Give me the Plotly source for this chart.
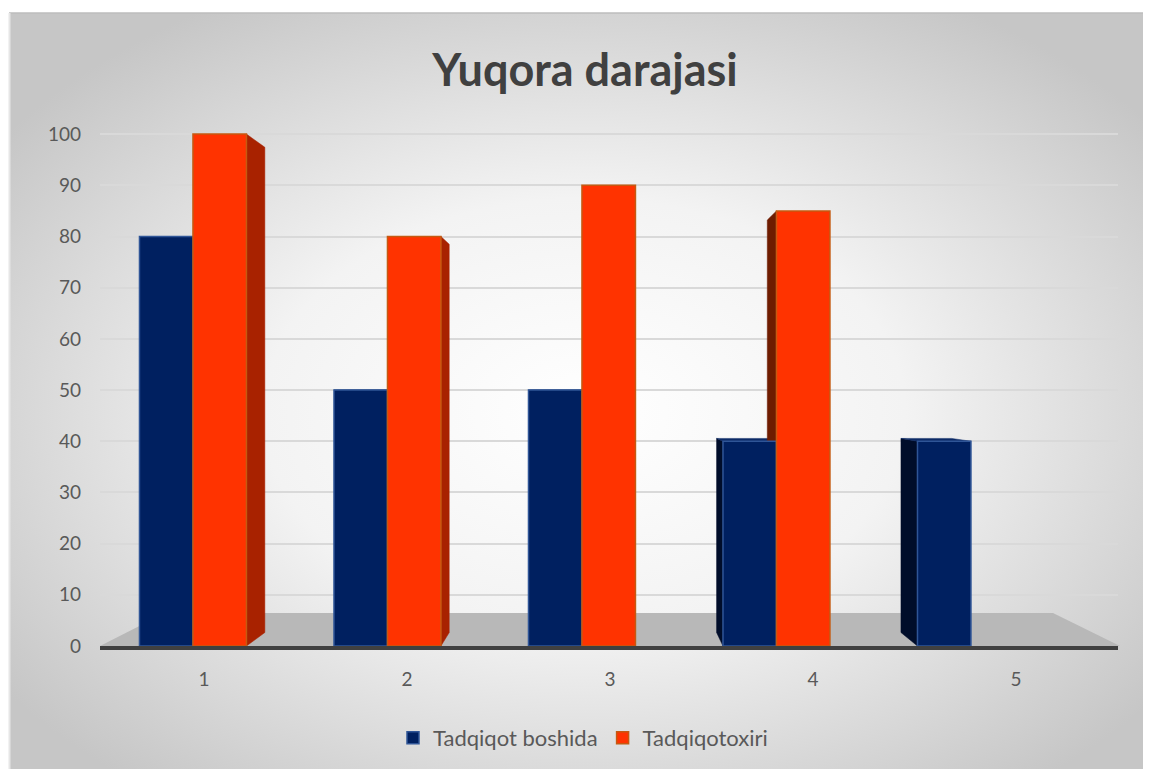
import base64
import plotly.graph_objects as go

categories = ["1", "2", "3", "4", "5"]
series_names = ["Tadqiqot boshida", "Tadqiqotoxiri"]
boshida = [80, 50, 50, 40, 40]
oxiri = [100, 80, 90, 85, None]
y_ticks = [0, 10, 20, 30, 40, 50, 60, 70, 80, 90, 100]

W, H = 1151, 769
ML, MR, MT, MB = 92, 41, 121, 131
PW, PH = W - ML - MR, H - MT - MB
XR = [-0.478, 4.756]      # bar axis range (category index)
XR2 = [-0.512, 4.502]     # label axis range (labels sit a bit right, as in a 3-D view)
YR = [0, 101]

FONT = "Lato, 'Open Sans', sans-serif"
TXT = "#595959"
BLUE, BLUE_EDGE, BLUE_SIDE, BLUE_TOP = "#002060", "#2f5597", "#000d2a", "#0c2a66"
ORANGE, ORANGE_EDGE = "#ff3300", "#c55a11"
ORANGE_SIDE_R, ORANGE_SIDE_L = "#a82200", "#6e1c00"


def fx(px):  # figure pixel -> paper x
    return (px - ML) / PW


def fy(py):  # figure pixel -> paper y
    return (H - MB - py) / PH


def dx(px):  # figure pixel -> data x
    return XR[0] + (px - ML) / PW * (XR[1] - XR[0])


def dy(py):
    return YR[0] + (H - MB - py) / PH * (YR[1] - YR[0])


# perspective: vanishing point and depth factor (styling of the 3-D look)
VX, VY, K = dx(592), dy(379), 0.948


def back(x, y):
    return VX + K * (x - VX), VY + K * (y - VY)


svg = f'''<svg xmlns="http://www.w3.org/2000/svg" width="{W}" height="{H}">
<defs><radialGradient id="g" cx="50%" cy="52%" r="62%">
<stop offset="0%" stop-color="#ffffff"/><stop offset="45%" stop-color="#f3f3f3"/>
<stop offset="100%" stop-color="#c6c6c6"/></radialGradient></defs>
<rect x="0" y="0" width="{W}" height="{H}" fill="#ffffff"/>
<rect x="1" y="5" width="{W}" height="{H}" fill="url(#g)"/>
<line x1="1" y1="5" x2="{W}" y2="5" stroke="#bdbdbd" stroke-width="1.5"/>
<line x1="1.5" y1="5" x2="1.5" y2="{H}" stroke="#e6e6e6" stroke-width="2"/>
</svg>'''
src = "data:image/svg+xml;base64," + base64.b64encode(svg.encode()).decode()

fig = go.Figure()
fig.add_trace(go.Bar(
    x=categories, y=boshida, name=series_names[0],
    marker=dict(color=BLUE, line=dict(color=BLUE_EDGE, width=1.5)),
))
fig.add_trace(go.Bar(
    x=categories, y=oxiri, name=series_names[1],
    marker=dict(color=ORANGE, line=dict(color=ORANGE_EDGE, width=1.5)),
))
# invisible trace carrying the category labels on the overlay axis
fig.add_trace(go.Scatter(
    x=categories, y=[0] * len(categories), xaxis="x2", yaxis="y",
    mode="markers", marker=dict(opacity=0), showlegend=False, hoverinfo="skip",
))

fig.add_layout_image(dict(
    source=src, xref="paper", yref="paper",
    x=fx(0), y=fy(0), sizex=W / PW, sizey=H / PH, sizing="stretch",
    xanchor="left", yanchor="top", layer="below",
))

# floor (decorative)
fig.add_shape(type="path", xref="paper", yref="paper", layer="between",
              path=f"M {fx(92)},{fy(638)} L {fx(1112)},{fy(638)} "
                   f"L {fx(1045)},{fy(605)} L {fx(157)},{fy(605)} Z",
              fillcolor="#b8b8b8", line=dict(width=0))


def poly(pts, color):
    path = "M " + " L ".join(f"{x},{y}" for x, y in pts) + " Z"
    fig.add_shape(type="path", xref="x", yref="y", layer="between", path=path,
                  fillcolor=color, line=dict(color=color, width=0.5))


half = (1 - 0.45) / 2
for s, (vals, side_r, side_l, top_c) in enumerate([
        (boshida, BLUE_SIDE, BLUE_SIDE, BLUE_TOP),
        (oxiri, ORANGE_SIDE_R, ORANGE_SIDE_L, "#ff6633")]):
    for i, v in enumerate(vals):
        if v is None:
            continue
        x0 = i - half + s * half
        x1 = x0 + half
        if x1 < VX:
            poly([(x1, 0), (x1, v), back(x1, v), back(x1, 0)], side_r)
        elif x0 > VX:
            poly([(x0, 0), (x0, v), back(x0, v), back(x0, 0)], side_l)
        if v < VY:
            poly([(x0, v), (x1, v), back(x1, v), back(x0, v)], top_c)

fig.update_layout(
    width=W, height=H,
    margin=dict(l=ML, r=MR, t=MT, b=MB),
    paper_bgcolor="rgba(0,0,0,0)", plot_bgcolor="rgba(0,0,0,0)",
    font=dict(family=FONT, color=TXT, size=19),
    title=dict(text="<b>Yuqora darajasi</b>", x=577 / W, xanchor="center",
               yref="container", y=1 - 62 / H, yanchor="middle",
               font=dict(size=45, color="#404040", family=FONT)),
    barmode="group", bargap=0.45, bargroupgap=0,
    showlegend=True,
    legend=dict(orientation="h", x=fx(575), xanchor="center",
                y=fy(730), yanchor="middle",
                font=dict(size=22, color=TXT), bgcolor="rgba(0,0,0,0)",
                itemwidth=30, tracegroupgap=0),
    xaxis=dict(type="category", range=XR, showgrid=False, showline=True,
               linecolor="#404040", linewidth=3.5, ticks="", showticklabels=False),
    xaxis2=dict(type="category", range=XR2, overlaying="x", anchor="y", side="bottom",
                showgrid=False, showline=False, zeroline=False, ticks="",
                ticklabelstandoff=20, tickfont=dict(size=19, color=TXT)),
    yaxis=dict(range=YR, tickvals=y_ticks, showgrid=True, gridcolor="#d9d9d9",
               gridwidth=1.5, zeroline=False, showline=False, ticks="",
               ticklabelstandoff=18, tickfont=dict(size=19, color=TXT)),
)

fig.write_html("out.html",
               post_script="document.documentElement.style.overflow='hidden';"
                           "document.body.style.overflow='hidden';")
